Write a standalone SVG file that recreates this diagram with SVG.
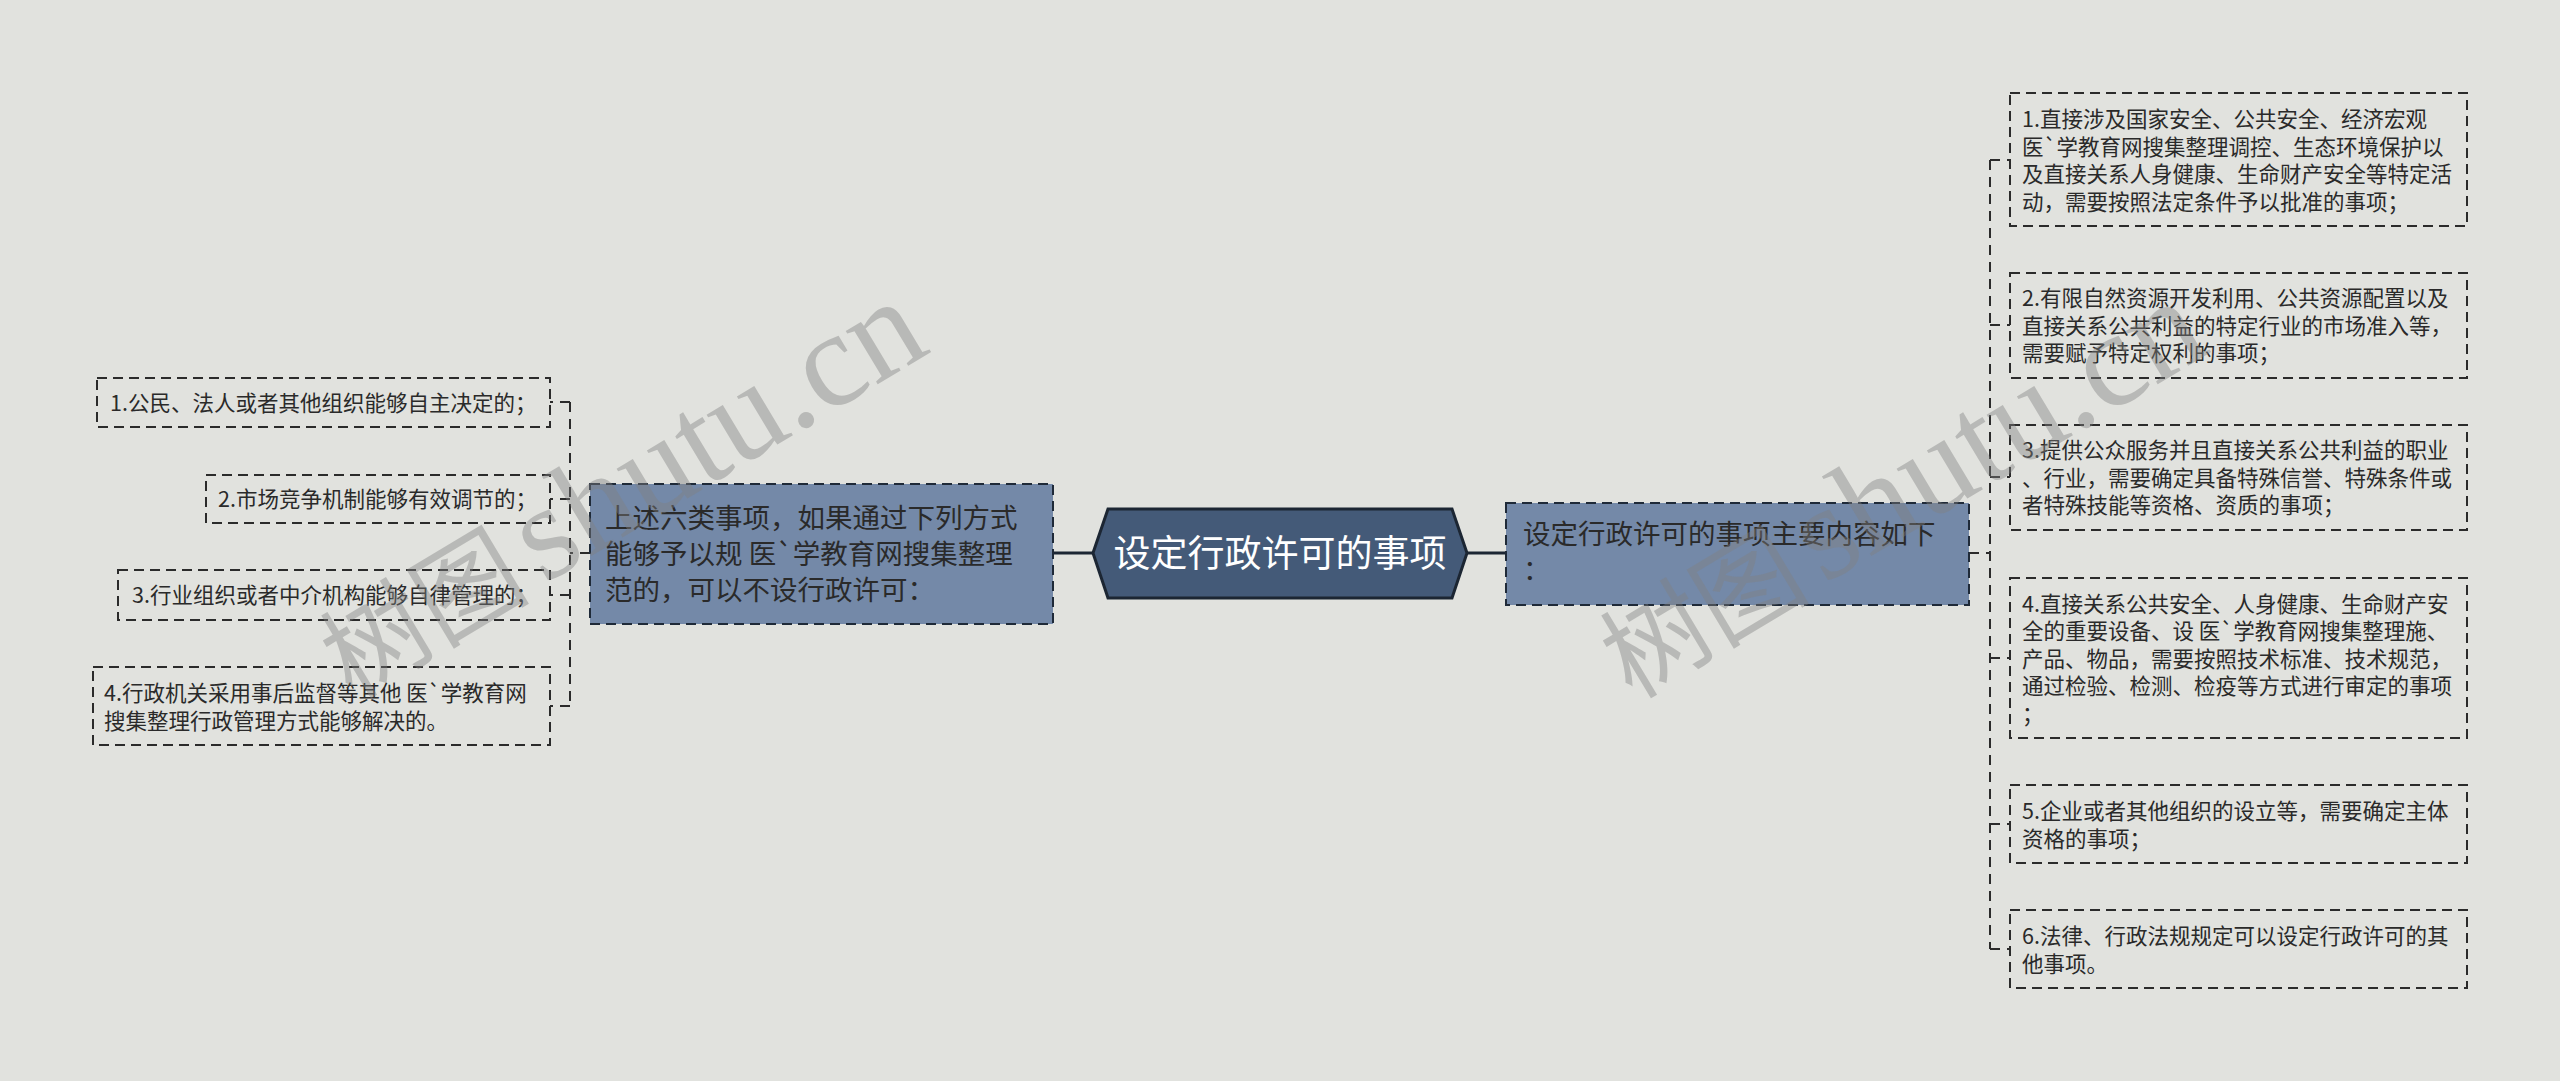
<svg xmlns="http://www.w3.org/2000/svg" width="2560" height="1081" viewBox="0 0 2560 1081">
<style>
.bg{fill:#e1e2de}
.leaf{fill:none;stroke:#2b2b2b;stroke-width:2;stroke-dasharray:10 6}
.sub{fill:#7489a8;stroke:#1f2a38;stroke-width:2;stroke-dasharray:10 6}
.conn{fill:none;stroke:#2b2b2b;stroke-width:2;stroke-dasharray:10 7}
.main{fill:none;stroke:#1c2633;stroke-width:3}
.t{font-family:"Noto Sans CJK SC","Microsoft YaHei",sans-serif;fill:#2a2a2a}
.s{font-size:21.5px}
.m{font-size:27.5px}
.title{font-family:"Noto Sans CJK SC",sans-serif;font-size:37px;fill:#ffffff;text-anchor:middle}
.wm{font-family:"Liberation Serif","Noto Sans CJK SC",serif;fill:#808080;fill-opacity:0.42}
</style>
<rect class="bg" x="0" y="0" width="2560" height="1081"/>

<g id="connectors">
<path class="main" d="M1053 553 H1093"/>
<path class="main" d="M1467 553 H1506"/>
<path class="conn" d="M590 553 H570"/>
<path class="conn" d="M570 402 V706"/>
<path class="conn" d="M570 402 H550 M570 499 H550 M570 595 H550 M570 706 H550"/>
<path class="conn" d="M1969 553 H1990"/>
<path class="conn" d="M1990 160 V949"/>
<path class="conn" d="M1990 160 H2010 M1990 325 H2010 M1990 477 H2010 M1990 658 H2010 M1990 824 H2010 M1990 949 H2010"/>
</g>

<g id="root">
<polygon points="1093,553 1108,509 1452,509 1467,553 1452,598 1108,598" fill="#445a78" stroke="#1c2633" stroke-width="3"/>
<text class="title" x="1280" y="567">设定行政许可的事项</text>
</g>

<g id="left-main">
<rect class="sub" x="590" y="484" width="463" height="140"/>
<text class="t m" x="605"><tspan x="605" y="528">上述六类事项，如果通过下列方式</tspan><tspan x="605" y="564">能够予以规 医`学教育网搜集整理</tspan><tspan x="605" y="600">范的，可以不设行政许可：</tspan></text>
</g>

<g id="right-main">
<rect class="sub" x="1506" y="503" width="463" height="102"/>
<text class="t m" x="1523"><tspan x="1523" y="544">设定行政许可的事项主要内容如下</tspan><tspan x="1523" y="580">：</tspan></text>
</g>

<g id="left-1">
<rect class="leaf" x="97" y="378" width="453" height="49"/>
<text class="t s" x="110" y="411">1.公民、法人或者其他组织能够自主决定的；</text>
</g>
<g id="left-2">
<rect class="leaf" x="206" y="475" width="344" height="48"/>
<text class="t s" x="218" y="507">2.市场竞争机制能够有效调节的；</text>
</g>
<g id="left-3">
<rect class="leaf" x="118" y="570" width="432" height="50"/>
<text class="t s" x="132" y="603">3.行业组织或者中介机构能够自律管理的；</text>
</g>
<g id="left-4">
<rect class="leaf" x="93" y="667" width="457" height="78"/>
<text class="t s"><tspan x="104" y="701">4.行政机关采用事后监督等其他 医`学教育网</tspan><tspan x="104" y="729">搜集整理行政管理方式能够解决的。</tspan></text>
</g>

<g id="right-1">
<rect class="leaf" x="2010" y="93" width="457" height="133"/>
<text class="t s"><tspan x="2022" y="127">1.直接涉及国家安全、公共安全、经济宏观</tspan><tspan x="2022" y="154.5">医`学教育网搜集整理调控、生态环境保护以</tspan><tspan x="2022" y="182">及直接关系人身健康、生命财产安全等特定活</tspan><tspan x="2022" y="209.5">动，需要按照法定条件予以批准的事项；</tspan></text>
</g>
<g id="right-2">
<rect class="leaf" x="2010" y="273" width="457" height="105"/>
<text class="t s"><tspan x="2022" y="306">2.有限自然资源开发利用、公共资源配置以及</tspan><tspan x="2022" y="333.5">直接关系公共利益的特定行业的市场准入等，</tspan><tspan x="2022" y="361">需要赋予特定权利的事项；</tspan></text>
</g>
<g id="right-3">
<rect class="leaf" x="2010" y="425" width="457" height="105"/>
<text class="t s"><tspan x="2022" y="458">3.提供公众服务并且直接关系公共利益的职业</tspan><tspan x="2022" y="485.5">、行业，需要确定具备特殊信誉、特殊条件或</tspan><tspan x="2022" y="513">者特殊技能等资格、资质的事项；</tspan></text>
</g>
<g id="right-4">
<rect class="leaf" x="2010" y="578" width="457" height="160"/>
<text class="t s"><tspan x="2022" y="611.5">4.直接关系公共安全、人身健康、生命财产安</tspan><tspan x="2022" y="639">全的重要设备、设 医`学教育网搜集整理施、</tspan><tspan x="2022" y="666.5">产品、物品，需要按照技术标准、技术规范，</tspan><tspan x="2022" y="694">通过检验、检测、检疫等方式进行审定的事项</tspan><tspan x="2022" y="721.5">；</tspan></text>
</g>
<g id="right-5">
<rect class="leaf" x="2010" y="785" width="457" height="78"/>
<text class="t s"><tspan x="2022" y="819">5.企业或者其他组织的设立等，需要确定主体</tspan><tspan x="2022" y="846.5">资格的事项；</tspan></text>
</g>
<g id="right-6">
<rect class="leaf" x="2010" y="910" width="457" height="78"/>
<text class="t s"><tspan x="2022" y="944">6.法律、行政法规规定可以设定行政许可的其</tspan><tspan x="2022" y="971.5">他事项。</tspan></text>
</g>

<g id="watermark">
<text class="wm" transform="translate(352 700) rotate(-31)"><tspan font-size="105">树图</tspan><tspan font-size="135" dx="14">shutu.cn</tspan></text>
<text class="wm" transform="translate(1632 700) rotate(-31)"><tspan font-size="105">树图</tspan><tspan font-size="135" dx="14">shutu.cn</tspan></text>
</g>
</svg>
